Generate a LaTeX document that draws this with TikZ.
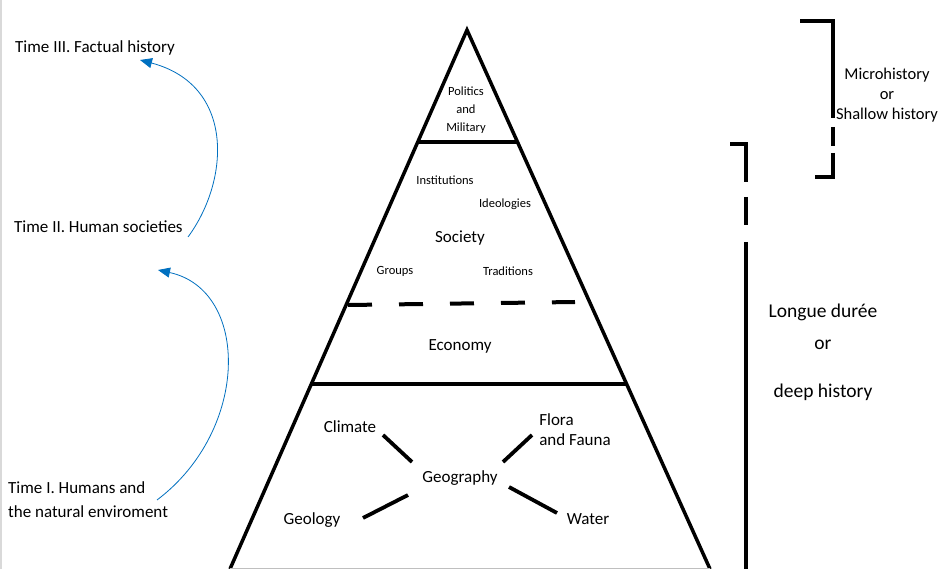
\documentclass[tikz,border=0pt]{standalone}
\usepackage{fontspec}
\setmainfont{Carlito}
\usetikzlibrary{arrows.meta,calc}
\definecolor{arrowblue}{HTML}{0070C0}
\begin{document}
\begin{tikzpicture}[x=1pt,y=-1pt,
  pyr/.style={line width=3.5pt, line join=miter},
  lbl/.style={font=\fontsize{17}{20}\selectfont, inner sep=0pt},
  biglbl/.style={font=\fontsize{19.5}{22}\selectfont, inner sep=0pt},
  small/.style={font=\fontsize{12.5}{18}\selectfont, inner sep=0pt, align=center},
  side/.style={font=\fontsize{17}{24}\selectfont, inner sep=0pt, anchor=west, align=left},
  link/.style={line width=3.8pt},
  flow/.style={draw=arrowblue, line width=0.8pt, -{Triangle[length=12pt,width=10pt]}},
  bracket/.style={line width=3.8pt, line join=miter}]
\useasboundingbox (0,0) rectangle (938,569);
\fill[white] (0,0) rectangle (938,569);
\draw[gray!30, line width=2pt] (1,0) -- (1,569);

% pyramid
\draw[pyr] (230,569) -- (467,30) -- (710,569);
\draw[gray!50, line width=1pt] (230,568.5) -- (710,568.5);
\draw[pyr] (417.75,142) -- (517.5,142);
\draw[pyr] (311.3,384) -- (626.6,384);
\draw[line width=4pt, dash pattern=on 24pt off 27pt] (348,305) -- (575,302);

% pyramid texts
\node[small] (pol) at (466,110) {Politics\\and\\Military};
\node[small] (ins) at (445,180) {Institutions};
\node[small] (ide) at (505,204) {Ideologies};
\node[lbl] (soc) at (460,238) {Society};
\node[small] (grp) at (395,271) {Groups};
\node[small] (tra) at (508,271) {Traditions};
\node[lbl] (eco) at (460,346) {Economy};
\node[lbl] (geo) at (460,478) {Geography};
\node[lbl] (cli) at (350,427) {Climate};
\node[lbl, align=left] (flo) at (575,430) {Flora\\and Fauna};
\node[lbl] (geol) at (312,520) {Geology};
\node[lbl] (wat) at (588,519) {Water};

\draw[link] ($(cli)+(33,8)$) -- ($(geo)+(-48,-16)$);
\draw[link] ($(flo)+(-43,5)$) -- ($(geo)+(43,-16)$);
\draw[link] ($(geol)+(51,-2)$) -- ($(geo)+(-52,17)$);
\draw[link] ($(wat)+(-31,-6)$) -- ($(geo)+(49,9)$);

% left labels
\node[side] (t3) at (15,48) {Time III. Factual history};
\node[side] (t2) at (14,227) {Time II. Human societies};
\node[side] (t1) at (8,500) {Time I. Humans and\\the natural enviroment};

\coordinate (a1s) at (188,237);
\coordinate (a1e) at (140,60);
\coordinate (a2s) at (157,500);
\coordinate (a2e) at (158,270);
\draw[flow] (a1s) .. controls (230,180) and (235,85) .. (a1e);
\draw[flow] (a2s) .. controls (250,430) and (250,290) .. (a2e);

% right brackets
\draw[bracket] (800,21) -- (833,21) -- (833,118);
\draw[bracket] (833,127) -- (833,146);
\draw[bracket] (833,153) -- (833,177) -- (815,177);
\node[font=\fontsize{16.5}{20}\selectfont, inner sep=0pt, align=center] (mic) at (887,95) {Microhistory\\or\\Shallow history};

\draw[bracket] (730,144) -- (746,144) -- (746,182);
\draw[bracket] (746,197) -- (746,225);
\draw[bracket] (746,242) -- (746,569);
\node[biglbl] (ld1) at (823,312) {Longue durée};
\node[biglbl] (ld2) at (823,345) {or};
\node[biglbl] (ld3) at (823,392) {deep history};
\end{tikzpicture}
\end{document}
